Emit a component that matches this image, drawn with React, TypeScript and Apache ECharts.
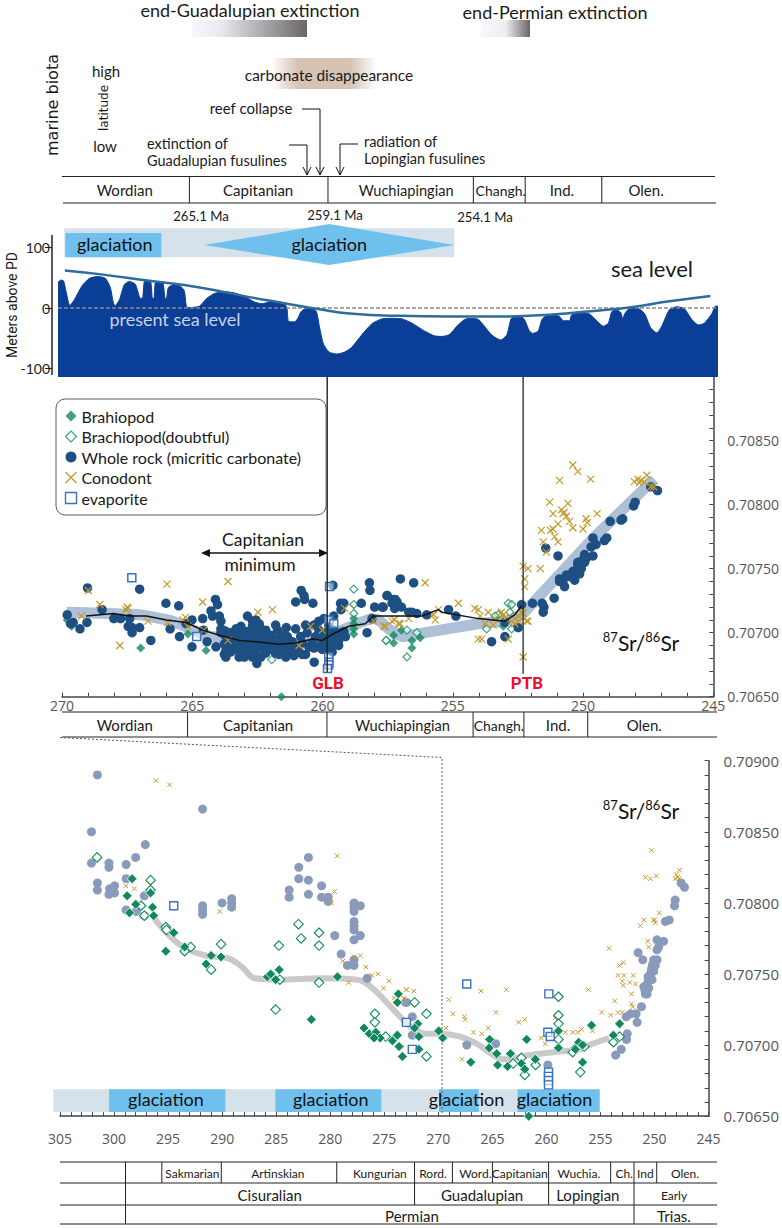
import { useEffect, useRef } from 'react';
import * as echarts from 'echarts';

const FONT = 'Lato';
const AXIS_FONT = '"Open Sans"';
const X_MARK = 'path://M0 0L10 10M10 0L0 10';

// sea level curve: [age Ma, metres above PD]
const seaLevel = [
  [270.13, 42], [270.04, 46], [269.92, 45], [269.81, 25], [269.68, 4], [269.5, 14], [269.22, 36], [268.93, 49], [268.6, 52],
  [268.32, 49], [268.13, 34], [268.01, 8], [267.94, 4], [267.78, 14], [267.59, 39], [267.4, 44], [267.17, 39], [266.98, 16],
  [266.9, 16], [266.83, 44], [266.71, 46], [266.58, 42], [266.52, 16], [266.46, 16], [266.41, 42], [266.29, 44], [266.12, 42],
  [266.04, 16], [265.99, 15], [265.91, 34], [265.72, 38], [265.45, 36], [265.3, 28], [265.2, 1], [265.01, 1], [264.72, 3],
  [264.44, 16], [264.15, 24], [263.77, 27], [263.39, 25], [263.0, 19], [262.62, 10], [262.34, 7], [262.05, 10], [261.76, 11],
  [261.48, 7], [261.38, 1], [261.32, -22], [261.09, -23], [260.96, -17], [260.84, -6], [260.67, -1], [260.42, -1], [260.25, -6],
  [260.14, -30], [259.98, -60], [259.76, -73], [259.47, -76], [259.18, -73], [258.9, -65], [258.51, -44], [258.13, -26], [257.75, -18],
  [257.37, -17], [256.98, -18], [256.6, -25], [256.12, -38], [255.74, -46], [255.45, -47], [255.17, -44], [254.88, -30], [254.59, -19],
  [254.31, -17], [254.06, -19], [253.83, -30], [253.54, -45], [253.2, -53], [252.97, -44], [252.82, -19], [252.68, -13], [252.49, -13],
  [252.3, -19], [252.11, -38], [251.98, -42], [251.77, -38], [251.63, -19], [251.44, -12], [251.15, -11], [250.96, -14], [250.81, -21],
  [250.58, -21], [250.49, -11], [250.2, -9], [249.86, -9], [249.63, -17], [249.28, -30], [249.09, -25], [248.96, -6], [248.77, -3],
  [248.61, -8], [248.54, -18], [248.46, -9], [248.29, -1], [248.0, 0], [247.71, -9], [247.47, -33], [247.24, -41], [247.05, -30],
  [246.76, -3], [246.47, 2], [246.19, -1], [245.9, -19], [245.65, -28], [245.42, -25], [245.13, -9], [245.0, 3], [244.9, 3],
];
const seaLevelTrend = [
  [269.87, 62], [268.55, 56], [266.64, 45], [264.72, 34], [262.81, 18], [261.48, 8], [260.14, -2], [258.99, -9], [257.08, -13],
  [255.17, -14], [253.26, -14], [251.35, -11], [249.43, -4], [248.29, 1], [246.76, 11], [245.19, 20],
];
const presentSeaLevel = [[270.13, 0], [244.9, 0]];

// middle panel, 270-245 Ma
const rockMiddle = [
  [269.8, 0.70714], [269.57, 0.70708], [269.67, 0.70707], [269.31, 0.70703], [269.04, 0.70708], [269.02, 0.70735], [268.46, 0.70718],
  [268.01, 0.70711], [267.75, 0.70711], [267.4, 0.70711], [267.46, 0.70705], [267.31, 0.70704], [267.31, 0.707], [267.02, 0.70704],
  [267.02, 0.70734], [266.59, 0.70694], [266.01, 0.70723], [265.85, 0.70703], [265.49, 0.70697], [265.52, 0.70721], [265.24, 0.70707],
  [265.01, 0.7071], [264.6, 0.70711], [265.01, 0.70689], [264.57, 0.70702], [264.43, 0.70693], [264.22, 0.70713], [264.28, 0.70717],
  [264.11, 0.70726], [264.03, 0.70722], [263.96, 0.70713], [263.9, 0.70709], [264.09, 0.70689], [263.71, 0.70686], [263.71, 0.70681],
  [263.81, 0.70702], [263.71, 0.70701], [263.52, 0.707], [263.32, 0.70703], [263.13, 0.70705], [262.88, 0.70713], [262.56, 0.7071],
  [262.43, 0.70707], [262.69, 0.70705], [262.5, 0.70702], [262.31, 0.707], [262.18, 0.70697], [262.88, 0.70697], [262.69, 0.70694],
  [262.94, 0.70688], [263.2, 0.70692], [263.07, 0.70685], [262.69, 0.70689], [263.0, 0.70681], [262.56, 0.70685], [262.37, 0.70689],
  [262.18, 0.7069], [261.99, 0.70693], [261.8, 0.70706], [261.73, 0.70702], [261.39, 0.70704], [261.03, 0.70703], [261.54, 0.70698],
  [261.35, 0.70697], [261.16, 0.70693], [260.84, 0.70697], [260.65, 0.70706], [260.33, 0.70706], [260.59, 0.707], [261.54, 0.70684],
  [261.41, 0.70681], [261.67, 0.70683], [261.1, 0.70682], [260.65, 0.70683], [261.03, 0.70688], [260.78, 0.70692], [262.52, 0.70676],
  [260.32, 0.70677], [260.82, 0.70733], [260.71, 0.70729], [260.69, 0.70726], [261.03, 0.70724], [260.37, 0.70723], [260.14, 0.70702],
  [260.27, 0.70697], [260.39, 0.70692], [260.14, 0.70689], [259.89, 0.70692], [259.76, 0.70688], [259.63, 0.7069], [259.38, 0.7069],
  [259.44, 0.70697], [259.31, 0.707], [259.63, 0.707], [259.18, 0.70701], [259.12, 0.70697], [259.95, 0.70711], [259.57, 0.70713],
  [259.31, 0.70723], [259.18, 0.70723], [259.29, 0.70718], [259.6, 0.70737], [258.51, 0.70723], [258.2, 0.70739], [258.18, 0.70733],
  [258.0, 0.7072], [257.67, 0.7072], [257.52, 0.70729], [257.21, 0.70726], [258.29, 0.707], [258.1, 0.70711], [263.52, 0.70692],
  [263.32, 0.70687], [262.18, 0.70684], [261.99, 0.70688], [261.67, 0.70692], [261.41, 0.7069], [263.07, 0.70698], [263.9, 0.707],
  [260.01, 0.70687], [259.63, 0.70685], [262.56, 0.70697], [262.43, 0.70692], [263.77, 0.70691],
  [263.9, 0.70703], [263.71, 0.70697], [263.32, 0.70698], [263.32, 0.70693], [263.13, 0.70698], [262.94, 0.70701], [262.69, 0.707],
  [262.56, 0.70698], [262.69, 0.70709], [262.37, 0.70703], [262.18, 0.70702], [261.99, 0.70698], [261.86, 0.70694], [261.67, 0.70696],
  [261.48, 0.70693], [261.29, 0.7069], [261.1, 0.70689], [260.9, 0.70685], [260.52, 0.70689], [260.33, 0.70688], [260.01, 0.7069],
  [259.82, 0.70696], [259.63, 0.70694], [259.38, 0.70694], [259.57, 0.70702], [260.01, 0.707], [260.14, 0.70709], [259.76, 0.70705],
  [262.88, 0.70692], [262.56, 0.7069], [262.37, 0.70694], [262.18, 0.70685], [261.92, 0.70687], [261.67, 0.70687], [261.35, 0.70685],
  [261.8, 0.70684], [262.69, 0.70681], [263.2, 0.70681], [263.45, 0.7069], [263.52, 0.70685], [263.77, 0.70683], [263.07, 0.70692],
  [263.26, 0.70689], [262.88, 0.70685], [262.37, 0.70681], [260.78, 0.70683], [260.01, 0.70694],
  [257.01, 0.70742], [256.5, 0.70739],
  [257.52, 0.70729], [257.71, 0.7072], [257.27, 0.70726], [257.14, 0.70724], [257.33, 0.70723], [257.23, 0.70719], [256.97, 0.7072],
  [256.69, 0.70716], [256.57, 0.70716], [256.38, 0.70715], [256.0, 0.70714], [255.16, 0.70718], [254.88, 0.70713], [253.51, 0.70693],
  [253.0, 0.70697], [253.0, 0.70708], [252.49, 0.70704], [252.36, 0.70722], [251.94, 0.70723], [251.57, 0.70723], [251.5, 0.7072],
  [251.53, 0.70716], [251.11, 0.70727], [251.43, 0.70766], [250.96, 0.7076], [250.9, 0.70742], [250.64, 0.70745], [250.77, 0.7074],
  [250.71, 0.70736], [250.32, 0.70741], [250.39, 0.70748], [250.2, 0.70749], [250.13, 0.70746], [250.07, 0.70754], [250.2, 0.70755],
  [250.0, 0.70757], [249.94, 0.70761], [249.62, 0.7076], [249.69, 0.70767], [249.62, 0.70774], [249.5, 0.70769], [249.18, 0.70772],
  [249.09, 0.70774], [248.96, 0.70787], [248.54, 0.70788], [248.48, 0.70789], [248.06, 0.70799], [248.0, 0.70802], [247.4, 0.70814],
  [247.14, 0.70811], [250.32, 0.70745], [250.07, 0.7075], [249.94, 0.70755], [250.52, 0.70744], [250.2, 0.70753], [249.88, 0.70758],
  [250.9, 0.7074],
];
const conodontMiddle = [
  [268.99, 0.70733], [268.55, 0.70722], [267.5, 0.7072], [267.55, 0.70718], [267.46, 0.70719], [269.25, 0.70713], [267.78, 0.7069],
  [265.97, 0.70738], [266.7, 0.70709], [265.94, 0.70708], [264.6, 0.70724], [265.36, 0.7071], [265.26, 0.70712], [265.17, 0.70705],
  [264.57, 0.70702], [263.63, 0.7074], [263.63, 0.70694], [262.48, 0.70716], [261.92, 0.70718], [260.9, 0.7069], [260.46, 0.70705],
  [260.01, 0.70702], [259.15, 0.70719], [257.59, 0.70705], [258.04, 0.70709], [257.24, 0.7071], [257.02, 0.70707], [250.39, 0.70831],
  [250.2, 0.70826], [249.71, 0.7082], [250.9, 0.70819], [251.28, 0.70802], [250.58, 0.70801], [251.15, 0.70793], [250.83, 0.70796],
  [250.77, 0.70793], [250.71, 0.70794], [250.64, 0.70791], [250.52, 0.70787], [250.39, 0.70782], [250.96, 0.70785], [251.15, 0.70781],
  [251.6, 0.7078], [251.25, 0.7078], [251.53, 0.70771], [251.09, 0.70775], [250.96, 0.70771], [251.41, 0.70763], [249.88, 0.70789],
  [249.84, 0.70786], [250.0, 0.70781], [249.46, 0.70793], [252.3, 0.70752], [252.11, 0.7075], [251.64, 0.7075], [252.24, 0.70742],
  [252.24, 0.70736], [252.3, 0.70681], [256.06, 0.70739], [254.78, 0.70723], [255.55, 0.70718], [255.74, 0.70714], [255.67, 0.7071],
  [256.69, 0.70711], [257.08, 0.70707], [257.33, 0.70709], [257.65, 0.70705], [254.15, 0.70719], [254.02, 0.70718], [253.64, 0.70716],
  [253.95, 0.70713], [254.02, 0.70695], [253.89, 0.70695], [253.76, 0.70707], [253.38, 0.70711], [253.13, 0.70716], [253.06, 0.70714],
  [253.0, 0.70711], [252.87, 0.70695], [253.45, 0.70706], [252.74, 0.70709], [252.62, 0.70711], [252.49, 0.70713], [252.36, 0.70716],
  [252.3, 0.70715], [252.62, 0.70707], [252.43, 0.70709], [252.17, 0.70709], [252.11, 0.70709], [248.03, 0.70818], [247.9, 0.7082],
  [247.78, 0.70819], [247.65, 0.70818], [247.55, 0.70823], [247.84, 0.70817], [247.4, 0.70814], [247.29, 0.70814],
];
const brachiopodMiddle = [
  [269.63, 0.70705], [269.8, 0.7071], [266.98, 0.70688], [265.17, 0.70699], [264.47, 0.70686], [263.55, 0.70685], [262.11, 0.70687],
  [258.8, 0.70711], [258.8, 0.70707], [258.8, 0.70703], [258.8, 0.70699], [257.27, 0.70698], [257.27, 0.70692], [261.58, 0.7065],
  [256.97, 0.70702], [256.57, 0.70694], [256.25, 0.70696], [256.57, 0.70688], [253.06, 0.70705],
];
const doubtfulMiddle = [
  [258.8, 0.70734], [258.8, 0.70722], [258.8, 0.70715], [257.55, 0.70694], [261.95, 0.70679], [252.87, 0.70723], [252.74, 0.70722],
  [253.26, 0.70714], [253.7, 0.70703], [253.38, 0.70713], [252.81, 0.70716], [252.74, 0.70703], [257.56, 0.70694], [256.76, 0.70702],
  [256.38, 0.707], [256.76, 0.70681],
];
const evaporiteMiddle = [
  [267.32, 0.70743], [259.73, 0.70736], [264.83, 0.70697], [259.76, 0.7071], [259.57, 0.70707], [259.76, 0.70681], [259.76, 0.70677],
  [259.76, 0.70675], [259.81, 0.70672],
];
const trendMiddle = [
  [269.82, 0.70716], [268.3, 0.70715], [267.02, 0.70714], [265.75, 0.70709], [264.47, 0.70698], [263.2, 0.70693], [261.92, 0.7069],
  [260.65, 0.70692], [260.01, 0.70696], [259.12, 0.70703], [258.1, 0.70711], [257.84, 0.7071], [257.46, 0.70703], [256.95, 0.70697],
  [256.06, 0.707], [254.02, 0.70707], [253.0, 0.70709], [252.36, 0.70714], [249.69, 0.70772], [247.27, 0.7082],
];
const averageMiddle = [
  [269.08, 0.70713], [268.55, 0.70714], [268.04, 0.70715], [267.4, 0.70713], [266.76, 0.70713], [265.99, 0.7071], [265.24, 0.70708],
  [264.6, 0.70702], [263.96, 0.70698], [263.2, 0.70694], [262.56, 0.70693], [261.67, 0.70691], [261.03, 0.70692], [260.39, 0.70695],
  [260.01, 0.70694], [259.5, 0.707], [258.99, 0.70705], [258.36, 0.70707], [258.04, 0.70713], [257.84, 0.70713], [256.18, 0.70713],
  [255.55, 0.70718], [255.42, 0.70716], [254.02, 0.70711], [253.0, 0.70709], [252.62, 0.70714], [252.36, 0.70721],
];
const glbLine = [[259.82, 0.709], [259.82, 0.70669]];
const ptbLine = [[252.3, 0.709], [252.3, 0.70668]];

// lower panel, 305-245 Ma
const rockLower = [
  [301.54, 0.7089], [291.81, 0.70866], [302.09, 0.7085], [297.11, 0.70841], [302.09, 0.70828], [300.47, 0.70828], [300.47, 0.70825],
  [298.88, 0.70827], [298.0, 0.70832], [298.88, 0.70817], [301.54, 0.70814], [301.54, 0.70809], [300.41, 0.7081], [299.95, 0.70812],
  [299.95, 0.70807], [300.47, 0.70806], [300.26, 0.70808], [298.88, 0.70795], [297.96, 0.70794], [297.2, 0.70805], [297.2, 0.70791],
  [291.81, 0.70798], [291.81, 0.70795], [291.81, 0.70792], [290.01, 0.708], [289.12, 0.70803], [289.12, 0.708], [289.12, 0.70797],
  [282.02, 0.70832], [282.91, 0.70825], [282.91, 0.70817], [282.02, 0.70816], [280.8, 0.70812], [283.8, 0.70809], [283.8, 0.70804],
  [282.02, 0.70806], [280.8, 0.70804], [280.19, 0.70804], [280.19, 0.70801], [277.8, 0.708], [277.8, 0.70797], [277.8, 0.70794],
  [277.22, 0.70798], [277.8, 0.70787], [277.8, 0.70784], [277.8, 0.70781], [277.22, 0.70777], [277.8, 0.70774], [279.58, 0.70777],
  [278.99, 0.70764], [277.8, 0.7076], [278.41, 0.70756], [277.8, 0.70756], [276.58, 0.70747], [273.03, 0.7073], [272.93, 0.7073],
  [272.41, 0.7072], [272.41, 0.70707], [267.37, 0.707], [264.7, 0.70701], [259.87, 0.70686], [253.6, 0.70693], [253.08, 0.70697],
  [252.59, 0.70704], [252.53, 0.70708], [252.62, 0.7072], [252.22, 0.70722], [251.7, 0.70722], [251.61, 0.70716], [251.21, 0.70727],
  [251.09, 0.7076], [251.52, 0.70765], [250.99, 0.70741], [250.84, 0.70736], [250.69, 0.70743], [250.54, 0.70746], [250.38, 0.7075],
  [250.23, 0.70755], [250.08, 0.7076], [249.77, 0.7076], [249.77, 0.70767], [249.62, 0.70769], [249.16, 0.70773], [249.77, 0.70774],
  [249.0, 0.70787], [248.64, 0.70788], [248.15, 0.70798], [248.09, 0.70802], [247.54, 0.70814], [247.23, 0.70811], [250.9, 0.70739],
  [250.6, 0.70748], [250.29, 0.70753], [250.17, 0.70757], [250.54, 0.7074], [250.23, 0.70746], [250.08, 0.70752], [249.93, 0.70756],
  [250.69, 0.70736],
];
const conodontLower = [
  [296.13, 0.70886], [294.87, 0.70883], [279.36, 0.70833], [298.91, 0.70812], [298.12, 0.7081], [279.61, 0.70808], [279.88, 0.708],
  [290.22, 0.70794], [278.84, 0.70759], [277.8, 0.70762], [277.22, 0.70763], [276.7, 0.70755], [276.15, 0.70749], [275.6, 0.7075],
  [278.3, 0.70744], [274.56, 0.70745], [275.08, 0.7074], [274.1, 0.70733], [273.18, 0.70733], [272.97, 0.70739], [250.29, 0.70837],
  [250.84, 0.70818], [250.38, 0.70817], [249.83, 0.70819], [247.69, 0.70823], [248.09, 0.70817], [247.85, 0.70818], [247.72, 0.70817],
  [248.0, 0.7082], [251.3, 0.70784], [250.99, 0.70788], [249.56, 0.70793], [250.08, 0.70788], [249.93, 0.70786], [250.0, 0.70788],
  [250.63, 0.70773], [250.54, 0.70769], [254.21, 0.70768], [253.23, 0.70756], [252.89, 0.70758], [253.38, 0.70749], [252.83, 0.70749],
  [251.98, 0.70749], [252.99, 0.70745], [252.89, 0.70742], [252.28, 0.70744], [251.76, 0.70743], [252.13, 0.70736], [252.13, 0.70729],
  [252.01, 0.70727], [253.69, 0.70731], [254.88, 0.70723], [254.06, 0.70721], [253.38, 0.70723], [252.99, 0.70723], [256.11, 0.70739],
  [269.05, 0.70732], [266.05, 0.70738], [263.72, 0.70739], [268.65, 0.70722], [267.58, 0.7072], [267.52, 0.70718], [269.29, 0.70712],
  [264.67, 0.70723], [266.75, 0.70709], [265.99, 0.70708], [265.38, 0.70712], [267.82, 0.7069], [262.56, 0.70716], [262.01, 0.70718],
  [260.48, 0.70705], [260.11, 0.70701], [259.2, 0.70719], [258.25, 0.70709], [257.57, 0.70709], [257.1, 0.70709], [256.75, 0.70711],
  [255.74, 0.7071], [272.93, 0.70739], [272.26, 0.70738], [273.18, 0.70733],
];
const brachiopodLower = [
  [298.33, 0.70817], [298.79, 0.70805], [296.62, 0.70807], [297.99, 0.70799], [296.44, 0.70797], [296.34, 0.70791], [298.57, 0.70793],
  [294.48, 0.70779], [293.47, 0.70769], [295.21, 0.70766], [291.02, 0.70763], [290.1, 0.70762], [291.48, 0.70757], [285.82, 0.70748],
  [285.51, 0.7075], [284.72, 0.70753], [285.05, 0.70746], [279.33, 0.70748], [281.75, 0.70718], [273.7, 0.70736], [273.79, 0.7073],
  [276.88, 0.70712], [276.39, 0.70708], [275.78, 0.70709], [275.38, 0.70705], [273.85, 0.70707], [274.25, 0.70703], [273.58, 0.70699],
  [275.94, 0.70705], [271.9, 0.70715], [272.2, 0.70712], [271.8, 0.70706], [273.79, 0.70707], [273.64, 0.70699], [273.33, 0.70692],
  [271.8, 0.70697], [269.97, 0.7071], [269.6, 0.70705], [267.0, 0.70688], [265.25, 0.70704], [265.3, 0.70698], [264.6, 0.70694],
  [264.52, 0.70686], [263.6, 0.70685], [263.33, 0.70694], [262.32, 0.70687], [261.83, 0.70704], [262.0, 0.70683], [261.03, 0.7069],
  [258.89, 0.7071], [258.89, 0.70698], [257.36, 0.70698], [257.02, 0.70702], [257.33, 0.70697], [256.66, 0.707], [256.66, 0.70688],
  [255.83, 0.70714], [253.81, 0.70707], [253.23, 0.70715], [261.64, 0.7065],
];
const doubtfulLower = [
  [301.57, 0.70832], [296.62, 0.70816], [296.62, 0.70809], [297.5, 0.70798], [297.2, 0.70791], [295.21, 0.70783], [295.15, 0.70781],
  [293.47, 0.70766], [292.91, 0.70769], [290.1, 0.70771], [291.02, 0.70753], [284.75, 0.7077], [282.94, 0.70785], [282.7, 0.70775],
  [281.04, 0.70779], [281.04, 0.7077], [281.04, 0.70744], [285.05, 0.70725], [275.87, 0.70722], [275.87, 0.70716], [284.66, 0.70746],
  [274.87, 0.70706], [272.2, 0.7073], [271.1, 0.70722], [271.1, 0.70692], [258.89, 0.70734], [258.89, 0.70721], [258.89, 0.70715],
  [258.89, 0.70704], [261.0, 0.70686], [263.08, 0.70687], [262.32, 0.70691], [262.0, 0.70679], [256.87, 0.70681], [256.5, 0.70699],
  [257.57, 0.70695], [253.81, 0.70702], [253.23, 0.70706],
];
const evaporiteLower = [
  [294.48, 0.70798], [272.96, 0.70716], [272.41, 0.70697], [267.37, 0.70743], [259.78, 0.70736], [259.87, 0.70709], [259.65, 0.70706],
  [259.81, 0.70681], [259.81, 0.70678], [259.81, 0.70675], [259.81, 0.70672],
];
const trendLower = [
  [296.28, 0.70789], [294.6, 0.70775], [293.37, 0.70768], [291.54, 0.70763], [289.4, 0.70761], [288.17, 0.70755], [286.95, 0.70747],
  [284.81, 0.70746], [280.83, 0.70747], [277.47, 0.70746], [276.24, 0.70741], [273.79, 0.70722], [272.57, 0.70713], [271.04, 0.70708],
  [269.81, 0.70708], [267.98, 0.70706], [266.45, 0.70701], [264.92, 0.70693], [264.0, 0.7069], [261.55, 0.70693], [259.41, 0.70695],
  [256.96, 0.70697], [256.04, 0.707], [254.21, 0.70705],
];

// glaciation spans, Ma
const upperGlacialBackground = [[269.89, 254.98]];
const upperGlacials = [[269.85, 266.18]];
const upperDiamond = [264.53, 259.76, 254.98];
const lowerGlacialBackground = [[305.6, 262.69]];
const lowerGlacials = [[300.47, 289.7], [285.08, 275.28], [269.94, 266.27], [262.69, 255.07]];
const lowerGlacialLabelAges = [295.2, 279.95, 267.4, 259.25];

// chronostratigraphic tables
const topStageBounds = [265.11, 259.79, 254.21, 252.22, 249.28];
const topStageAges = [267.59, 262.47, 256.79, 253.16, 250.81, 247.58];
const stageNames = ['Wordian', 'Capitanian', 'Wuchiapingian', 'Changh.', 'Ind.', 'Olen.'];
const midStageBounds = [265.18, 259.83, 254.22, 252.27, 249.82];
const midStageAges = [267.59, 262.47, 256.93, 253.23, 250.96, 247.65];
const lowStageBounds = [298.94, 295.58, 290.08, 279.4, 272.2, 268.7, 265.0, 259.8, 254.06, 251.9, 249.8];
const lowStageAges = [292.75, 284.85, 275.41, 270.49, 266.57, 262.47, 257.0, 252.81, 250.85, 247.18];
const lowStageNames = ['Sakmarian', 'Artinskian', 'Kungurian', 'Rord.', 'Word.', 'Capitanian', 'Wuchia.', 'Ch.', 'Ind', 'Olen.'];
const epochBounds = [298.94, 272.2, 259.8, 251.9];
const epochAges = [285.6, 265.95, 256.17, 248.2];
const epochNames = ['Cisuralian', 'Guadalupian', 'Lopingian', 'Early'];
const periodBounds = [298.94, 251.9];
const periodAges = [272.44, 248.2];
const periodNames = ['Permian', 'Trias.'];

const GREEN = '#12895c';
const GOLD = '#c39a2b';
const NAVY = '#1d4f82';
const SQUARE = '#3a72c0';
const names = ['Brahiopod', 'Brachiopod(doubtful)', 'Whole rock (micritic carbonate)', 'Conodont', 'evaporite'];

const scatter = (name: string, data: number[][], ax: number, symbol: string, size: number, itemStyle: any) => ({
  type: 'scatter', name, data, symbol, symbolSize: size, itemStyle, silent: true, z: 3, xAxisIndex: ax, yAxisIndex: ax,
});

const line = (data: number[][], ax: number, color: string, width: number, smooth: number | boolean = false, dash?: number[], z = 4) => ({
  type: 'line', data, showSymbol: false, symbol: 'none', smooth, silent: true, clip: false, z, xAxisIndex: ax, yAxisIndex: ax,
  lineStyle: { color, width, type: dash ?? 'solid', join: 'round' },
});

// vertical table dividers placed on an axis scale
const dividers = (ages: number[], ax: number, y0: number, y1: number) => ({
  type: 'custom', silent: true, xAxisIndex: ax, yAxisIndex: ax, data: ages.map(a => [a, 0]),
  renderItem: (_: any, api: any) => {
    const x = api.coord([api.value(0), 0])[0];
    return { type: 'line', shape: { x1: x, y1: y0, x2: x, y2: y1 }, style: { stroke: '#222', lineWidth: 1 } };
  },
});

const cellLabels = (ages: number[], labels: string[], ax: number, y: number, fontSize: number, sizes?: Record<string, number>) => ({
  type: 'custom', silent: true, xAxisIndex: ax, yAxisIndex: ax, data: ages.map(a => [a, 0]),
  renderItem: (p: any, api: any) => {
    const x = api.coord([api.value(0), 0])[0];
    const text = labels[p.dataIndex];
    return {
      type: 'text',
      style: { text, x, y, fill: '#1a1a1a', fontSize: sizes?.[text] ?? fontSize, fontFamily: FONT, textAlign: 'center', textVerticalAlign: 'middle' },
    };
  },
});

// [start, end] spans between two y values on a panel
const spans = (data: number[][], ax: number, y0: number, y1: number, fill: string) => ({
  type: 'custom', silent: true, z: 1, xAxisIndex: ax, yAxisIndex: ax, data,
  renderItem: (_: any, api: any) => {
    const a = api.coord([api.value(0), y0]);
    const b = api.coord([api.value(1), y1]);
    return { type: 'rect', shape: { x: a[0], y: b[1], width: b[0] - a[0], height: a[1] - b[1] }, style: { fill } };
  },
});

const glaciationText = (ages: number[], ax: number, yVal: number) => ({
  type: 'custom', silent: true, z: 6, xAxisIndex: ax, yAxisIndex: ax, data: ages.map(a => [a, yVal]),
  renderItem: (_: any, api: any) => {
    const c = api.coord([api.value(0), api.value(1)]);
    return {
      type: 'text',
      style: { text: 'glaciation', x: c[0], y: c[1], fill: '#111', fontSize: 18, fontFamily: FONT, textAlign: 'center', textVerticalAlign: 'middle' },
    };
  },
});

const srAxis = (grid: number, hideTop: boolean, fontSize: number, margin: number) => ({
  gridIndex: grid, type: 'value', position: 'right', min: 0.7065, max: 0.709, interval: 0.0005,
  axisLine: { show: true, onZero: false, lineStyle: { color: '#444', width: 1.5 } },
  axisTick: { show: true, inside: true, length: 4, lineStyle: { color: '#444' } },
  minorTick: { show: true, splitNumber: 5, length: 4, lineStyle: { color: '#444' } },
  splitLine: { show: false },
  minorSplitLine: { show: false },
  axisLabel: {
    color: '#555', fontSize, fontFamily: AXIS_FONT, margin,
    formatter: (v: number) => (hideTop && v > 0.70895 ? '' : v.toFixed(5)),
  },
});

const ageAxis = (grid: number, min: number, max: number, margin: number) => ({
  gridIndex: grid, type: 'value', inverse: true, min, max, interval: 5,
  axisLine: { show: true, onZero: false, lineStyle: { color: '#444', width: 1.5 } },
  axisTick: { show: true, inside: true, length: 4, lineStyle: { color: '#444' } },
  minorTick: { show: true, splitNumber: 5, length: 4, lineStyle: { color: '#444' } },
  splitLine: { show: false },
  axisLabel: { color: '#555', fontSize: 14, fontFamily: AXIS_FONT, margin },
});

const label = (text: string, x: number, y: number, fontSize: number, extra: any = {}) => ({
  type: 'text', x, y, z: 50, rotation: extra.rotation ?? 0,
  style: {
    text, x: 0, y: 0, fontSize, fill: extra.fill ?? '#1a1a1a', fontFamily: extra.font ?? FONT, fontWeight: extra.weight ?? 'normal',
    textAlign: extra.align ?? 'center', textVerticalAlign: 'middle', lineHeight: extra.lineHeight,
  },
});

const stroke = (points: number[][], width = 1, color = '#222', dash?: number[]) => ({
  type: 'polyline', z: 40, shape: { points }, style: { stroke: color, lineWidth: width, fill: 'none', lineDash: dash },
});

const downArrow = (x: number, y: number) => stroke([[x - 4, y - 8], [x, y], [x + 4, y - 8]], 1, '#111');

const ratioLabel = (x: number, y: number) => ({
  type: 'text', x, y, z: 50,
  style: {
    text: '{s|87}{m|Sr/}{s|86}{m|Sr}', x: 0, y: 0, textAlign: 'center', textVerticalAlign: 'middle',
    rich: {
      s: { fontSize: 13, fontFamily: FONT, fill: '#111', verticalAlign: 'top', lineHeight: 24 },
      m: { fontSize: 21, fontFamily: FONT, fill: '#111', lineHeight: 24 },
    },
  },
});

const graphicItems = [
  { type: 'rect', z: 1, shape: { x: 192, y: 20, width: 115, height: 17 }, style: { fill: new echarts.graphic.LinearGradient(0, 0, 1, 0, [
    { offset: 0, color: '#f7f7fd' }, { offset: 0.25, color: '#e9e9f0' }, { offset: 1, color: '#6a6666' },
  ]) } },
  { type: 'rect', z: 1, shape: { x: 481, y: 20, width: 49, height: 17 }, style: { fill: new echarts.graphic.LinearGradient(0, 0, 1, 0, [
    { offset: 0, color: '#f7f7fd' }, { offset: 0.5, color: '#eeeef2' }, { offset: 1, color: '#6a6666' },
  ]) } },
  { type: 'rect', z: 1, shape: { x: 272, y: 58, width: 104, height: 31 }, style: { fill: new echarts.graphic.LinearGradient(0, 0, 1, 0, [
    { offset: 0, color: 'rgba(205,185,170,0)' }, { offset: 0.25, color: '#d6c3b6' }, { offset: 0.75, color: '#d6c3b6' }, { offset: 1, color: 'rgba(205,185,170,0)' },
  ]) } },
  label('end-Guadalupian extinction', 250, 10, 18),
  label('end-Permian extinction', 555, 12, 18),
  label('carbonate disappearance', 329, 75, 15.4),
  label('marine biota', 52, 105, 16, { rotation: Math.PI / 2, font: '"DejaVu Sans"' }),
  label('high', 106, 71, 15),
  label('latitude', 104, 108, 12, { rotation: Math.PI / 2, font: '"DejaVu Sans"' }),
  label('low', 105, 146, 15),
  label('reef collapse', 251, 108, 15),
  label('extinction of\nGuadalupian fusulines', 147, 152, 14.5, { align: 'left', lineHeight: 17 }),
  label('radiation of\nLopingian fusulines', 364, 150, 14.5, { align: 'left', lineHeight: 17 }),
  stroke([[302, 109], [320, 109], [320, 175]], 1, '#111'),
  downArrow(320, 175),
  stroke([[289, 145], [307, 145], [307, 175]], 1, '#111'),
  downArrow(307, 175),
  stroke([[358, 144], [340, 144], [340, 175]], 1, '#111'),
  downArrow(340, 175),
  stroke([[62, 176.5], [715, 176.5]]),
  stroke([[63, 203], [716, 203]]),
  label('265.1 Ma', 201, 216, 13.2),
  label('259.1 Ma', 335, 215, 13.2),
  label('254.1 Ma', 485, 217, 13.2),
  label('sea level', 652, 268, 22),
  label('present sea level', 175, 319, 18, { fill: '#c9d2e6' }),
  label('Meters above PD', 12, 305, 14, { rotation: Math.PI / 2, font: 'Roboto' }),
  label('Capitanian', 263, 539, 17.5),
  label('minimum', 260, 564, 17.5),
  stroke([[206, 553], [322, 553]], 1.5, '#111'),
  { type: 'polygon', z: 40, shape: { points: [[201, 553], [210, 549], [210, 557]] }, style: { fill: '#111' } },
  { type: 'polygon', z: 40, shape: { points: [[328, 553], [319, 549], [319, 557]] }, style: { fill: '#111' } },
  label('GLB', 328, 683, 17, { fill: '#e8112d', weight: 'bold', font: 'Roboto' }),
  label('PTB', 527, 683, 17, { fill: '#e8112d', weight: 'bold', font: 'Roboto' }),
  ratioLabel(641, 642),
  ratioLabel(641, 810),
  stroke([[62, 712], [717, 712]]),
  stroke([[62, 737], [717, 737]]),
  stroke([[60, 737.5], [442, 757.5], [442, 1115]], 1, '#555', [2, 2]),
  stroke([[60, 1162], [717, 1162]]),
  stroke([[60, 1183], [717, 1183]]),
  stroke([[60, 1205], [717, 1205]]),
  stroke([[60, 1224], [717, 1224]]),
];

const legendEntry = (name: string, icon: string, itemStyle: any) => ({ name, icon, itemStyle });

const option: any = {
  animation: false,
  backgroundColor: '#fff',
  grid: [
    { left: 58, width: 660, top: 235.4, height: 139.15 },
    { left: 62, width: 654, top: 376.7, height: 320 },
    { left: 60, width: 653, top: 760.7, height: 355.5 },
  ],
  xAxis: [
    { gridIndex: 0, type: 'value', inverse: true, min: 244.9, max: 270.13, show: false },
    ageAxis(1, 245, 270, 2),
    ageAxis(2, 245, 305, 15),
  ],
  yAxis: [
    {
      gridIndex: 0, type: 'value', min: -110, max: 120, position: 'left', offset: 6,
      axisLine: { show: true, onZero: false, lineStyle: { color: '#222', width: 1.5 } },
      axisTick: { show: true, length: 7, customValues: [-100, 0, 100], lineStyle: { color: '#222' } },
      axisLabel: { color: '#222', fontSize: 14, fontFamily: FONT, margin: 2, customValues: [-100, 0, 100] },
      splitLine: { show: false },
    },
    srAxis(1, true, 14, 14),
    srAxis(2, false, 15, 15),
  ],
  legend: {
    left: 56, top: 399, orient: 'vertical', itemGap: 4.5, itemWidth: 11, itemHeight: 11, padding: [9, 25, 9, 7], selectedMode: false,
    borderColor: '#333', borderWidth: 0.8, borderRadius: 9, backgroundColor: '#fff', z: 20,
    textStyle: { fontFamily: FONT, fontSize: 16, color: '#1a1a1a' },
    data: [
      legendEntry(names[0], 'diamond', { color: GREEN, borderWidth: 0 }),
      legendEntry(names[1], 'diamond', { color: '#fff', borderColor: GREEN, borderWidth: 1.2 }),
      legendEntry(names[2], 'circle', { color: NAVY, borderWidth: 0 }),
      legendEntry(names[3], X_MARK, { color: 'none', borderColor: GOLD, borderWidth: 1.3 }),
      legendEntry(names[4], 'rect', { color: '#fff', borderColor: SQUARE, borderWidth: 1.4 }),
    ],
  },
  graphic: { elements: graphicItems },
  series: [
    // sea level panel
    {
      ...line(seaLevel, 0, '#0a3e97', 1, 0.2, undefined, 2),
      areaStyle: { color: '#0a3e97', origin: -114, opacity: 1 },
    },
    line(presentSeaLevel, 0, '#8a8a8a', 1.5, false, [4, 2]),
    line(seaLevelTrend, 0, '#2f6c9a', 2.5, true),
    spans(upperGlacialBackground, 0, 84, 132, '#d5e2eb'),
    { ...spans(upperGlacials, 0, 84, 124, '#70c0ee'), z: 2 },
    {
      type: 'custom', silent: true, z: 2, xAxisIndex: 0, yAxisIndex: 0, data: [upperDiamond],
      renderItem: (_: any, api: any) => {
        const pts = [
          api.coord([api.value(0), 104]), api.coord([api.value(1), 139]),
          api.coord([api.value(2), 104]), api.coord([api.value(1), 71]),
        ];
        return { type: 'polygon', shape: { points: pts }, style: { fill: '#70c0ee' } };
      },
    },
    glaciationText([267.96, 259.76], 0, 106),

    // stage tables
    dividers(topStageBounds, 1, 176.5, 203),
    cellLabels(topStageAges, stageNames, 1, 190, 15, { 'Changh.': 14, Wuchiapingian: 14.6 }),
    dividers(midStageBounds, 1, 712, 737),
    cellLabels(midStageAges, stageNames, 1, 725, 15, { 'Changh.': 14, Wuchiapingian: 14.6 }),
    dividers(lowStageBounds, 2, 1162, 1183),
    cellLabels(lowStageAges, lowStageNames, 2, 1173, 12),
    dividers(epochBounds, 2, 1183, 1205),
    cellLabels(epochAges, epochNames, 2, 1195, 15, { Early: 12 }),
    dividers(periodBounds, 2, 1205, 1224),
    cellLabels(periodAges, periodNames, 2, 1216, 15),

    // middle panel
    line(trendMiddle, 1, '#aebfd8', 11, 0.1, undefined, 1),
    scatter(names[0], brachiopodMiddle, 1, 'diamond', 9, { color: GREEN }),
    scatter(names[1], doubtfulMiddle, 1, 'diamond', 8, { color: 'rgba(255,255,255,0.7)', borderColor: GREEN, borderWidth: 1.2 }),
    scatter(names[2], rockMiddle, 1, 'circle', 9.5, { color: NAVY, opacity: 1 }),
    scatter(names[3], conodontMiddle, 1, X_MARK, 7, { color: 'none', borderColor: GOLD, borderWidth: 1.2, opacity: 1 }),
    scatter(names[4], evaporiteMiddle, 1, 'rect', 8, { color: 'rgba(255,255,255,0.5)', borderColor: SQUARE, borderWidth: 1.5, opacity: 1 }),
    line(glbLine, 1, '#222', 1.4),
    line(ptbLine, 1, '#333', 1.4),
    line(averageMiddle, 1, '#111', 1.5, false, undefined, 5),

    // lower panel
    spans(lowerGlacialBackground, 2, 0.70653, 0.70669, '#d5e2eb'),
    { ...spans(lowerGlacials, 2, 0.70653, 0.70669, '#70c0ee'), z: 2 },
    line(trendLower, 2, '#c9c9c9', 6, 0.4, undefined, 1),
    scatter(names[2], rockLower, 2, 'circle', 9, { color: '#8a9abb', opacity: 1 }),
    scatter(names[3], conodontLower, 2, X_MARK, 4.5, { color: 'none', borderColor: GOLD, borderWidth: 1, opacity: 1 }),
    scatter(names[1], doubtfulLower, 2, 'diamond', 9.5, { color: '#fff', borderColor: GREEN, borderWidth: 1.1, opacity: 1 }),
    scatter(names[0], brachiopodLower, 2, 'diamond', 10, { color: GREEN, borderColor: '#fff', borderWidth: 0.8, opacity: 1 }),
    scatter(names[4], evaporiteLower, 2, 'rect', 8, { color: 'rgba(255,255,255,0.6)', borderColor: SQUARE, borderWidth: 1.4, opacity: 1 }),
    glaciationText(lowerGlacialLabelAges, 2, 0.70662),
  ],
};

const App = () => {
  const chartRef = useRef<HTMLDivElement>(null);

  useEffect(() => {
    if (!chartRef.current) return;
    const chart = echarts.init(chartRef.current, undefined, { renderer: 'svg' });
    chart.setOption(option);
    return () => {
      chart.dispose();
    };
  }, []);

  return <div ref={chartRef} style={{ position: 'absolute', left: 0, top: 0, width: 782, height: 1228 }} />;
};

export default App;
